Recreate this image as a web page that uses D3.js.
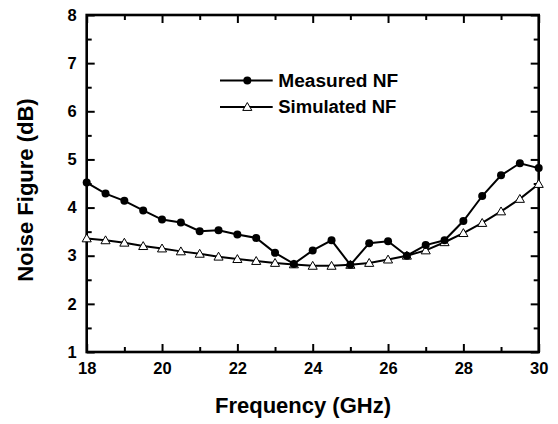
<!DOCTYPE html>
<html lang="en">
<head>
    <meta charset="UTF-8">
    <title>Noise Figure</title>
    <script src="https://cdn.jsdelivr.net/npm/d3@7"></script>
    <style>
        body { margin: 0; background: #fff; }
        svg { display: block; font-family: "Liberation Sans", Arial, sans-serif; font-weight: bold; }
    </style>
</head>
<body>
<svg></svg>
<script>
    // data (0.5 GHz steps)
    const freq = [18, 18.5, 19, 19.5, 20, 20.5, 21, 21.5, 22, 22.5, 23, 23.5, 24,
        24.5, 25, 25.5, 26, 26.5, 27, 27.5, 28, 28.5, 29, 29.5, 30];
    const measured = [4.52, 4.29, 4.14, 3.94, 3.75, 3.69, 3.51, 3.53, 3.44, 3.37, 3.06, 2.83, 3.11,
        3.32, 2.81, 3.26, 3.30, 3.00, 3.22, 3.32, 3.72, 4.24, 4.67, 4.92, 4.82];
    const simulated = [3.36, 3.32, 3.27, 3.20, 3.15, 3.09, 3.04, 2.98, 2.93, 2.89, 2.85, 2.82, 2.79,
        2.79, 2.81, 2.85, 2.92, 3.00, 3.11, 3.28, 3.47, 3.68, 3.92, 4.18, 4.49];
    const xTicks = [18, 20, 22, 24, 26, 28, 30];
    const xMinor = [19, 21, 23, 25, 27, 29];
    const yTicks = [1, 2, 3, 4, 5, 6, 7, 8];
    const yMinor = [1.5, 2.5, 3.5, 4.5, 5.5, 6.5, 7.5];
    const seriesNames = ["Measured NF", "Simulated NF"];

    const width = 558, height = 424;
    const margin = {top: 15, right: 19.3, bottom: 72, left: 86.7};

    const svg = d3.select("svg")
        .attr("width", width)
        .attr("height", height);

    const x = d3.scaleLinear().domain([18, 30]).range([margin.left, width - margin.right]);
    const y = d3.scaleLinear().domain([1, 8]).range([height - margin.bottom, margin.top]);

    // axes, ticks pointing inward
    function drawAxis(axis, tr, labels) {
        const g = svg.append("g").attr("transform", tr).call(axis);
        g.selectAll("text").attr("font-size", 16.5).attr("font-weight", "bold")
            .attr("font-family", "'Liberation Sans', Arial, sans-serif").attr("fill", "#000");
        if (!labels) g.selectAll("text").remove();
        g.select(".domain").remove();
        g.selectAll("line").attr("stroke", "#000").attr("stroke-width", 2);
        return g;
    }

    const yb = height - margin.bottom;
    drawAxis(d3.axisBottom(x).tickValues(xTicks).tickSize(-8).tickPadding(10).tickFormat(d3.format("d")), `translate(0,${yb})`, true);
    drawAxis(d3.axisBottom(x).tickValues(xMinor).tickSize(-5).tickFormat(""), `translate(0,${yb})`, false);
    drawAxis(d3.axisTop(x).tickValues(xTicks).tickSize(-8), `translate(0,${margin.top})`, false);
    drawAxis(d3.axisTop(x).tickValues(xMinor).tickSize(-5), `translate(0,${margin.top})`, false);
    drawAxis(d3.axisLeft(y).tickValues(yTicks).tickSize(-8).tickPadding(10).tickFormat(d3.format("d")), `translate(${margin.left},0)`, true);
    drawAxis(d3.axisLeft(y).tickValues(yMinor).tickSize(-5).tickFormat(""), `translate(${margin.left},0)`, false);
    drawAxis(d3.axisRight(y).tickValues(yTicks).tickSize(-8), `translate(${width - margin.right},0)`, false);
    drawAxis(d3.axisRight(y).tickValues(yMinor).tickSize(-5), `translate(${width - margin.right},0)`, false);

    // frame
    svg.append("rect")
        .attr("x", margin.left).attr("y", margin.top)
        .attr("width", x(30) - x(18)).attr("height", y(1) - y(8))
        .attr("fill", "none").attr("stroke", "#000").attr("stroke-width", 2.6);

    const line = d3.line().x(d => x(d[0])).y(d => y(d[1]));
    const tri = d3.symbol().type(d3.symbolTriangle).size(36);

    const measPts = d3.zip(freq, measured);
    const simPts = d3.zip(freq, simulated);

    svg.append("path").datum(simPts).attr("d", line)
        .attr("fill", "none").attr("stroke", "#000").attr("stroke-width", 2);
    svg.append("path").datum(measPts).attr("d", line)
        .attr("fill", "none").attr("stroke", "#000").attr("stroke-width", 2);

    svg.append("g").selectAll("path").data(simPts).join("path")
        .attr("d", tri)
        .attr("transform", d => `translate(${x(d[0])},${y(d[1]) + 0.8})`)
        .attr("fill", "#fff").attr("stroke", "#000").attr("stroke-width", 1);

    svg.append("g").selectAll("circle").data(measPts).join("circle")
        .attr("cx", d => x(d[0])).attr("cy", d => y(d[1])).attr("r", 4)
        .attr("fill", "#000");

    // legend
    const legendWidths = [120, 118];
    const legend = svg.append("g");
    seriesNames.forEach((name, i) => {
        const ly = 80.5 + i * 26.5;
        legend.append("line").attr("x1", 220).attr("x2", 272.7).attr("y1", ly).attr("y2", ly)
            .attr("stroke", "#000").attr("stroke-width", 1.8);
        if (i === 0) {
            legend.append("circle").attr("cx", 247.3).attr("cy", ly).attr("r", 4).attr("fill", "#000");
        } else {
            legend.append("path").attr("d", tri).attr("transform", `translate(247.3,${ly + 0.8})`)
                .attr("fill", "#fff").attr("stroke", "#000").attr("stroke-width", 1);
        }
        legend.append("text").attr("x", 278.3).attr("y", ly).attr("dy", "0.36em")
            .attr("font-size", 17.5)
            .attr("textLength", legendWidths[i]).attr("lengthAdjust", "spacingAndGlyphs")
            .text(name);
    });

    // axis titles
    svg.append("text")
        .attr("x", 303).attr("y", 413)
        .attr("text-anchor", "middle")
        .attr("font-size", 22)
        .text("Frequency (GHz)");

    svg.append("text")
        .attr("transform", "translate(33,190) rotate(-90)")
        .attr("text-anchor", "middle")
        .attr("font-size", 22)
        .text("Noise Figure (dB)");
</script>
</body>
</html>
